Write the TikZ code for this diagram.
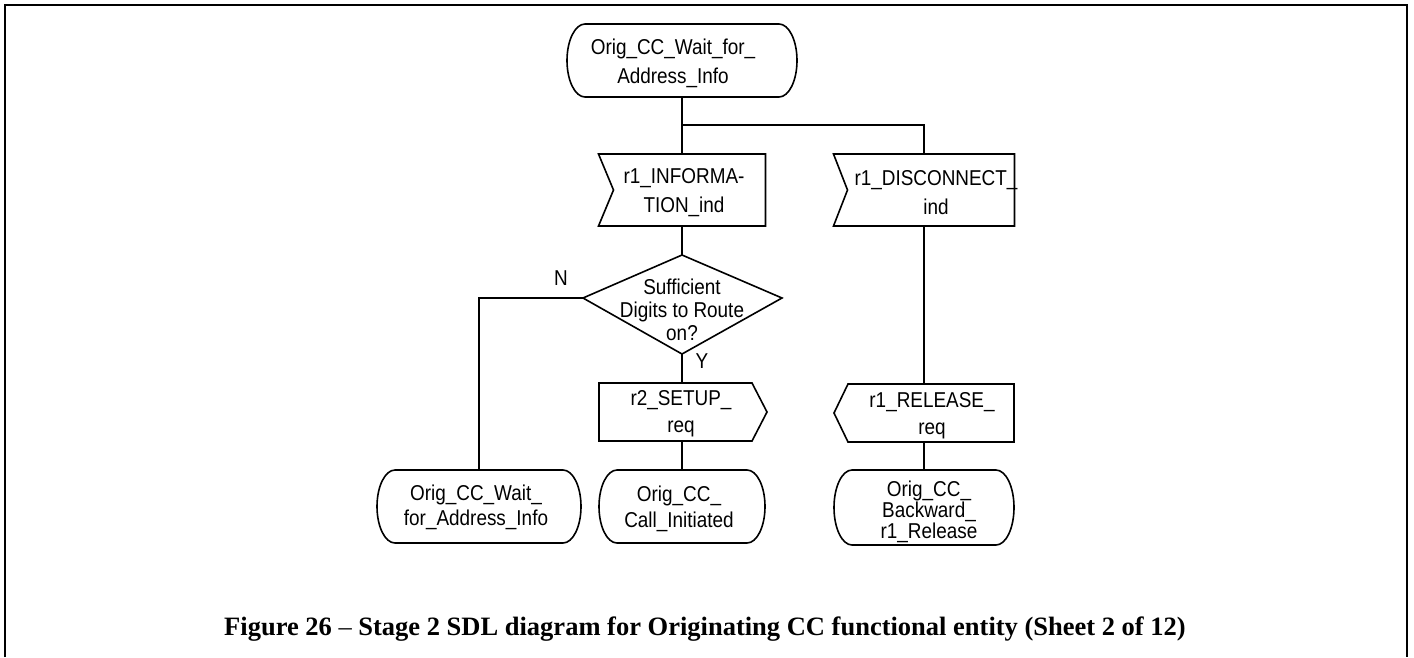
\documentclass[tikz,border=0pt]{standalone}
\usepackage{fontspec}
\setmainfont{Liberation Sans}
\newfontfamily\sdlfont[FakeStretch=0.88]{Liberation Sans}
\newfontfamily\capfont{Liberation Serif}
\usetikzlibrary{calc}
\newcommand\sdlstadium[1]{%
  \draw[ln] let \p1=(#1.north west), \p2=(#1.south east), \n1={(\y1-\y2)/2} in
    (\x1+18pt,\y1) -- (\x2-18pt,\y1)
    arc[start angle=90,end angle=-90,x radius=18pt,y radius=\n1]
    -- (\x1+18pt,\y2)
    arc[start angle=-90,end angle=-270,x radius=18pt,y radius=\n1] -- cycle;}
\begin{document}
\begin{tikzpicture}[x=1pt,y=-1pt,
  ln/.style={line width=1.6pt, line join=miter},
  box/.style={inner sep=0pt, outer sep=0pt},
  txt/.style={font=\sdlfont\fontsize{21.5}{28}\selectfont, align=center, inner sep=0pt},
  lbl/.style={font=\sdlfont\fontsize{21.5}{24}\selectfont, inner sep=0pt},
  captext/.style={font=\capfont\bfseries\fontsize{26.5}{30}\selectfont, inner sep=0pt}]
\useasboundingbox (0,0) rectangle (1414,657);
\draw[line width=2.5pt] (5,657) -- (5,5) -- (1407,5) -- (1407,657);

% start state
\node[box, minimum width=230, minimum height=73] (start) at (682,60.5) {};
\sdlstadium{start}
\node[txt, font=\sdlfont\fontsize{21.5}{29}\selectfont] (startT) at (673,63.5) {Orig\_CC\_Wait\_for\_\\Address\_Info};

% input signals
\node[box, minimum width=167, minimum height=72] (info) at (682,190) {};
\draw[ln] (info.north west) -- (info.north east) -- (info.south east) -- (info.south west) -- ([xshift=15pt]info.west) -- cycle;
\node[txt, font=\sdlfont\fontsize{21.5}{29}\selectfont] (infoT) at (684,192.5) {r1\_INFORMA-\\TION\_ind};

\node[box, minimum width=181, minimum height=72] (disc) at (924,190) {};
\draw[ln] (disc.north west) -- (disc.north east) -- (disc.south east) -- (disc.south west) -- ([xshift=14pt]disc.west) -- cycle;
\node[txt, font=\sdlfont\fontsize{21.5}{29}\selectfont] (discT) at (936,192.5) {r1\_DISCONNECT\_\\ind};

% decision
\coordinate (dtop) at (682,255);
\coordinate (dright) at (782,298);
\coordinate (dbot) at (682,354);
\coordinate (dleft) at (583,298);
\draw[ln] (dtop) -- (dright) -- (dbot) -- (dleft) -- cycle;
\node[txt, font=\sdlfont\fontsize{21.5}{23}\selectfont] (dec) at (682,310) {Sufficient\\Digits to Route\\on?};

% output signals
\node[box, minimum width=168, minimum height=58] (setup) at (683,412) {};
\draw[ln] (setup.north west) -- ([xshift=-15pt]setup.north east) -- (setup.east) -- ([xshift=-15pt]setup.south east) -- (setup.south west) -- cycle;
\node[txt, font=\sdlfont\fontsize{21.5}{27}\selectfont] (setupT) at (681,413.5) {r2\_SETUP\_\\req};

\node[box, minimum width=180, minimum height=58] (rel) at (924,413) {};
\draw[ln] ([xshift=14pt]rel.north west) -- (rel.north east) -- (rel.south east) -- ([xshift=14pt]rel.south west) -- (rel.west) -- cycle;
\node[txt, font=\sdlfont\fontsize{21.5}{27}\selectfont] (relT) at (932,415.5) {r1\_RELEASE\_\\req};

% final states
\node[box, minimum width=204, minimum height=73] (waitb) at (479,506.5) {};
\sdlstadium{waitb}
\node[txt, font=\sdlfont\fontsize{21.5}{25}\selectfont] (waitbT) at (476,507.5) {Orig\_CC\_Wait\_\\for\_Address\_Info};

\node[box, minimum width=166, minimum height=73] (calli) at (682,506.5) {};
\sdlstadium{calli}
\node[txt, font=\sdlfont\fontsize{21.5}{26}\selectfont] (calliT) at (679,509) {Orig\_CC\_\\Call\_Initiated};

\node[box, minimum width=180, minimum height=75] (back) at (924,507.5) {};
\sdlstadium{back}
\node[txt, font=\sdlfont\fontsize{21.5}{18.5}\selectfont] (backT) at (929,511.5) {Orig\_CC\_\\Backward\_\\r1\_Release};

% connectors
\coordinate (br) at (682,125);
\draw[ln] (start.south) -- (info.north);
\draw[ln] (br) -| (disc.north);
\draw[ln] (info.south) -- (dtop);
\draw[ln] (dleft) -| (waitb.north);
\draw[ln] (dbot) -- (dbot |- setup.north);
\draw[ln] (setup.south -| calli.north) -- (calli.north);
\draw[ln] (disc.south) -- (rel.north);
\draw[ln] (rel.south) -- (back.north);

\node[lbl] (nlab) at (561,278) {N};
\node[lbl] (ylab) at (702,361.5) {Y};

\node[captext, anchor=base] (caption) at (705,635) {Figure 26 {\mdseries –} Stage 2 SDL diagram for Originating CC functional entity (Sheet 2 of 12)};
\end{tikzpicture}
\end{document}
